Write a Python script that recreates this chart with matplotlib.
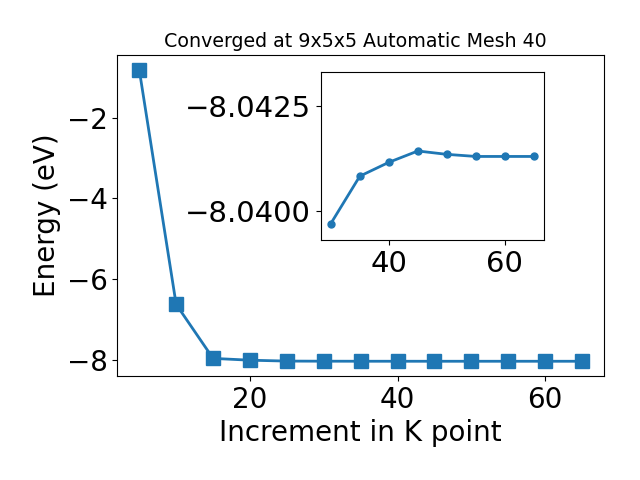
import matplotlib
matplotlib.use("Agg")
import matplotlib.pyplot as plt

# k-point increments and total energies (eV)
kpoints = [5, 10, 15, 20, 25, 30, 35, 40, 45, 50, 55, 60, 65]
energy = [-0.81, -6.63, -7.97, -8.015, -8.037, -8.0397, -8.04083, -8.04116,
          -8.04143, -8.04135, -8.0413, -8.0413, -8.0413]

inset_k = kpoints[5:]
inset_e = energy[5:]

fig = plt.figure(figsize=(6.4, 4.8), dpi=100)
ax = fig.add_axes([0.183, 0.217, 0.761, 0.668])
ax.plot(kpoints, energy, marker="s", markersize=10, linewidth=2, color="tab:blue")
ax.set_xlabel("Increment in K point", fontsize=20)
ax.set_ylabel("Energy (eV)", fontsize=20)
ax.set_title("Converged at 9x5x5 Automatic Mesh 40", fontsize=13.7, x=0.489)
ax.tick_params(labelsize=20)
ax.set_yticks([-2, -4, -6, -8])

ins = fig.add_axes([0.501, 0.5, 0.349, 0.349])
ins.plot(inset_k, inset_e, marker="o", markersize=5, linewidth=2, color="tab:blue")
ins.set_ylim(-8.03931, -8.0433)
ins.set_yticks([-8.0425, -8.0400])
ins.set_xticks([40, 60])
ins.tick_params(labelsize=21)

fig.savefig("out.png")
